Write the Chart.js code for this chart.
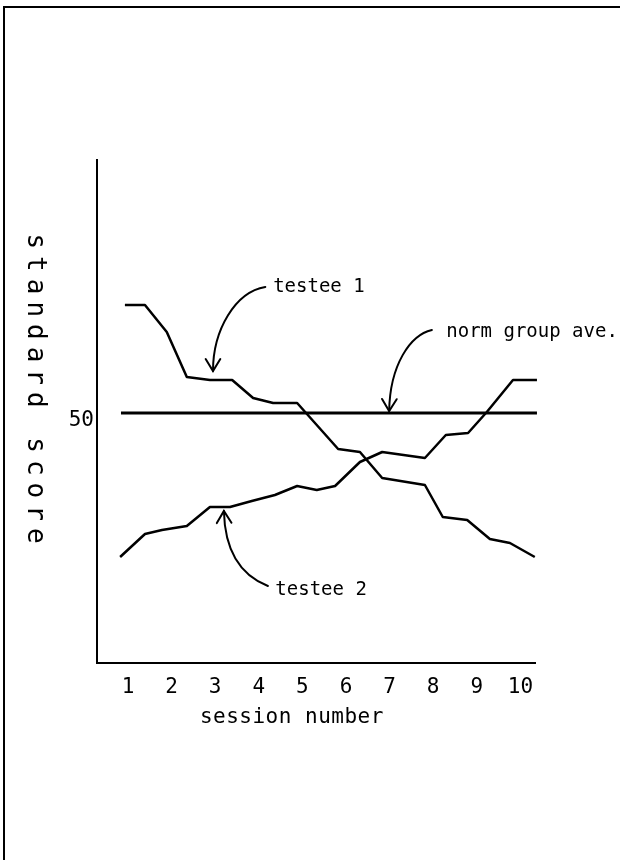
<!DOCTYPE html>
<html>
<head>
<meta charset="utf-8">
<script src="https://cdn.jsdelivr.net/npm/chart.js@4.4.1/dist/chart.umd.min.js"></script>
<style>
  html, body { margin: 0; padding: 0; background: #fff; }
  #frame { position: relative; width: 620px; height: 860px; overflow: hidden; }
  #frame:before { content: ''; position: absolute; left: 3px; top: 6px; right: -10px; bottom: -10px;
    border-top: 2px solid #000; border-left: 2px solid #000; }
  canvas { position: absolute; left: 0; top: 0; }
</style>
</head>
<body>
<div id="frame"><canvas id="myChart" width="620" height="860"></canvas></div>
<script>
// tick labels
const sessionTicks = [1, 2, 3, 4, 5, 6, 7, 8, 9, 10];
const scoreTicks = [50];

// testee 1
const testee1Sessions = [0.93, 1.39, 1.89, 2.35, 2.88, 3.39, 3.87, 4.33, 4.88, 5.82, 6.32, 6.83, 7.81, 8.22, 8.78, 9.30, 9.76, 10.33];
const testee1Scores   = [60.8, 60.8, 58.1, 53.6, 53.3, 53.3, 51.5, 51.0, 51.0, 46.4, 46.1, 43.5, 42.8, 39.6, 39.3, 37.4, 37.0, 35.6];

// testee 2
const testee2Sessions = [0.82, 1.39, 1.78, 2.35, 2.88, 3.34, 3.84, 4.37, 4.88, 5.33, 5.75, 6.32, 6.83, 7.81, 8.29, 8.80, 9.23, 9.83, 10.38];
const testee2Scores   = [35.6, 37.9, 38.3, 38.7, 40.6, 40.6, 41.2, 41.8, 42.7, 42.3, 42.7, 45.1, 46.1, 45.5, 47.8, 48.0, 50.1, 53.3, 53.3];

// norm group average
const normSessions = [0.84, 10.38];
const normScores   = [50, 50];

const MONO = "'DejaVu Sans Mono', monospace";

function pairs(xs, ys) {
    return xs.map((x, i) => ({ x: x, y: ys[i] }));
}

// annotation text + curved arrows, anchored in data units
const notes = [
    { text: 'testee 1', at: [4.33, 62.6], from: [4.15, 62.6], c1: [3.46, 62.1], c2: [2.95, 58.3], tip: [2.95, 54.2] },
    { text: 'norm group ave.', at: [8.30, 58.1], from: [7.97, 58.3], c1: [7.47, 57.8], c2: [7.01, 54.8], tip: [6.99, 50.2] },
    { text: 'testee 2', at: [4.38, 32.3], from: [4.21, 32.7], c1: [3.57, 33.8], c2: [3.22, 36.3], tip: [3.20, 40.2] }
];

const notesPlugin = {
    id: 'notes',
    afterDraw(chart) {
        const ctx = chart.ctx;
        const sx = chart.scales.x, sy = chart.scales.y;
        const P = (p) => [sx.getPixelForValue(p[0]), sy.getPixelForValue(p[1])];
        ctx.save();
        ctx.fillStyle = '#000';
        ctx.strokeStyle = '#000';
        ctx.lineWidth = 2;
        ctx.lineCap = 'round';
        ctx.textBaseline = 'middle';
        ctx.textAlign = 'left';
        ctx.font = '19px ' + MONO;

        notes.forEach(n => {
            const a = P(n.at), f = P(n.from), c1 = P(n.c1), c2 = P(n.c2), t = P(n.tip);
            ctx.fillText(n.text, a[0], a[1]);
            ctx.beginPath();
            ctx.moveTo(f[0], f[1]);
            ctx.bezierCurveTo(c1[0], c1[1], c2[0], c2[1], t[0], t[1]);
            ctx.stroke();
            // arrow head
            const ang = Math.atan2(t[1] - c2[1], t[0] - c2[0]);
            const len = 14, spread = 0.55;
            ctx.beginPath();
            ctx.moveTo(t[0] - len * Math.cos(ang - spread), t[1] - len * Math.sin(ang - spread));
            ctx.lineTo(t[0], t[1]);
            ctx.lineTo(t[0] - len * Math.cos(ang + spread), t[1] - len * Math.sin(ang + spread));
            ctx.stroke();
        });

        // axis titles
        ctx.font = '21px ' + MONO;
        ctx.letterSpacing = '0.5px';
        ctx.textAlign = 'center';
        ctx.fillText('session number', sx.getPixelForValue(4.76), chart.chartArea.bottom + 55);

        ctx.save();
        ctx.translate(35, 392);
        ctx.rotate(Math.PI / 2);
        ctx.font = '26px ' + MONO;
        ctx.letterSpacing = '7px';
        ctx.fillText('standard score', 0, 0);
        ctx.restore();

        ctx.restore();
    }
};

const data = {
    datasets: [
        { label: 'testee 1', data: pairs(testee1Sessions, testee1Scores), borderWidth: 2.5 },
        { label: 'testee 2', data: pairs(testee2Sessions, testee2Scores), borderWidth: 2.5 },
        { label: 'norm group ave.', data: pairs(normSessions, normScores), borderWidth: 3 }
    ]
};

const config = {
    type: 'line',
    data: data,
    options: {
        responsive: false,
        animation: false,
        devicePixelRatio: 1,
        layout: { padding: { left: 0, right: 85, top: 160, bottom: 0 } },
        elements: {
            point: { radius: 0 },
            line: { tension: 0, borderColor: '#000', borderJoinStyle: 'round' }
        },
        datasets: { line: { clip: false } },
        plugins: {
            legend: { display: false },
            tooltip: { enabled: false }
        },
        scales: {
            x: {
                type: 'linear',
                min: 0.29,
                max: 10.335,
                grid: { display: false, drawTicks: false },
                border: { display: true, color: '#000', width: 2 },
                ticks: {
                    color: '#000',
                    padding: 12,
                    maxRotation: 0,
                    autoSkip: false,
                    font: { family: MONO, size: 21 }
                },
                afterBuildTicks: s => { s.ticks = sessionTicks.map(v => ({ value: v })); },
                afterFit: s => { s.height = 197; }
            },
            y: {
                type: 'linear',
                min: 25,
                max: 75.3,
                grid: { display: false, drawTicks: false },
                border: { display: true, color: '#000', width: 2 },
                ticks: {
                    color: '#000',
                    padding: 3,
                    labelOffset: 8,
                    font: { family: MONO, size: 21 }
                },
                afterBuildTicks: s => { s.ticks = scoreTicks.map(v => ({ value: v })); },
                afterFit: s => { s.width = 97; }
            }
        }
    },
    plugins: [notesPlugin]
};

const ctx = document.getElementById('myChart').getContext('2d');
new Chart(ctx, config);
</script>
</body>
</html>
